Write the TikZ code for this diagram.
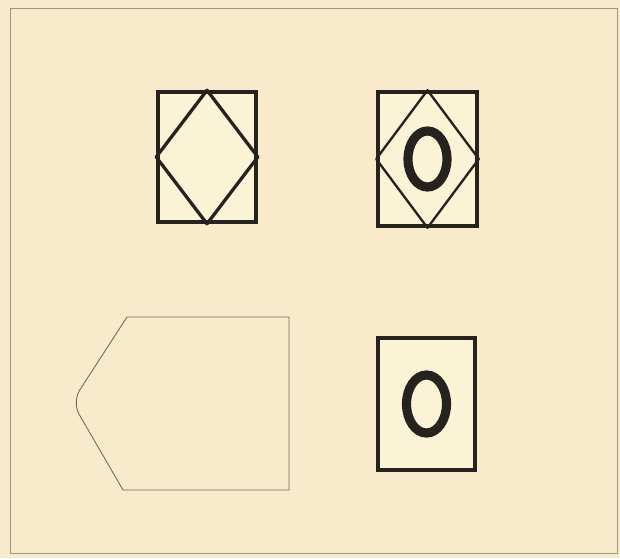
\documentclass[tikz,border=0pt]{standalone}
\usepackage{tikz}
\usetikzlibrary{positioning}
\definecolor{paperbg}{RGB}{249,234,203}
\definecolor{cardfill}{RGB}{251,243,214}
\definecolor{inkdark}{RGB}{38,34,30}
\definecolor{pencilgray}{RGB}{115,105,90}

\begin{document}
\begin{tikzpicture}[x=0.03cm, y=-0.03cm,
        card/.style={draw=inkdark, line width=3.1pt, fill=cardfill, inner sep=0pt},
        rhomb/.style={draw=inkdark, line width=2.8pt, line join=round},
        ring/.style={draw=inkdark, line width=7.8pt},
        sketchline/.style={draw=pencilgray, line width=0.75pt}]
        % paper and frame
        \fill[paperbg] (0,0) rectangle (620,558);
        \useasboundingbox (0,0) rectangle (620,558);
        \draw[sketchline, line width=0.6pt, draw=pencilgray!70] (10,8) rectangle (617,553);

        % top left: diamond card
        \node[card, minimum width=98*0.03cm, minimum height=130*0.03cm] (diamondcard) at (207,157) {};
        \draw[rhomb] (diamondcard.north) -- (diamondcard.east) -- (diamondcard.south) -- (diamondcard.west) -- cycle;

        % top right: diamond card with ring
        \node[card, minimum width=99*0.03cm, minimum height=134*0.03cm] (ringdiamond) at (427.5,159) {};
        \draw[rhomb, line width=2pt] (ringdiamond.north) -- (ringdiamond.east) -- (ringdiamond.south) -- (ringdiamond.west) -- cycle;
        \draw[ring] (ringdiamond.center) ellipse [x radius=19.5, y radius=28];

        % bottom left: outline
        \draw[sketchline] (127,317) -- (289,317) -- (289,490) -- (123,490)
            [rounded corners=12pt] -- (72,402) [sharp corners] -- cycle;

        % bottom right: ring card
        \node[card, minimum width=97*0.03cm, minimum height=132*0.03cm] (ringcard) at (426.5,404) {};
        \draw[ring] (ringcard.center) ellipse [x radius=20, y radius=29];
\end{tikzpicture}
\end{document}
